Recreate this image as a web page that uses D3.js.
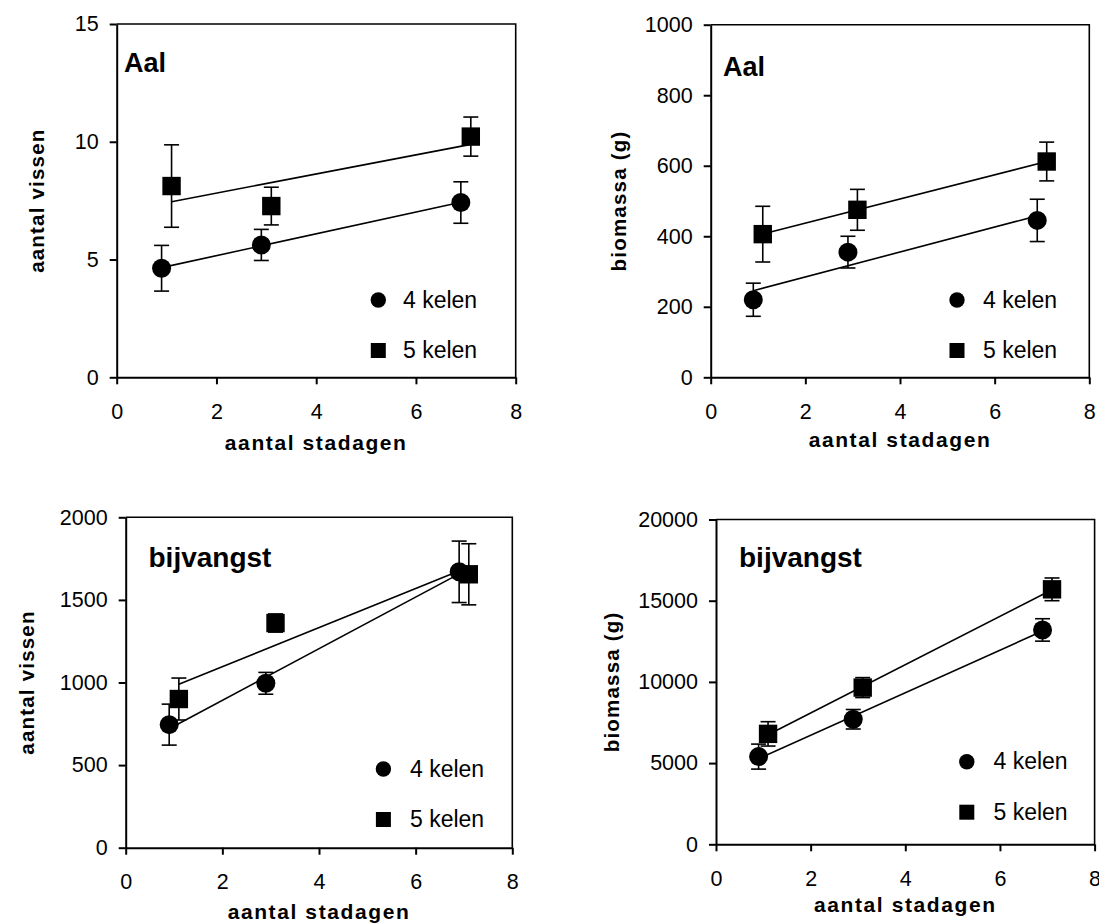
<!DOCTYPE html>
<html>
<head>
<meta charset="utf-8">
<script src="https://cdn.jsdelivr.net/npm/d3@7"></script>
<style>
  html, body { margin: 0; padding: 0; background: #fff; }
  svg { display: block; }
  text { font-family: "Liberation Sans", Arial, sans-serif; fill: #000; }
</style>
</head>
<body>
<svg id="chart" width="1099" height="924"></svg>
<script>
// ---------- data ----------
const xTicks = [0, 2, 4, 6, 8];
const legendLabels = ["4 kelen", "5 kelen"];
const xTitle = "aantal stadagen";

// x positions (aantal stadagen) of the two series (slightly offset in the figure)
const x4kelen = [0.9, 2.9, 6.9];
const x5kelen = [1.1, 3.1, 7.1];

// Aal - aantal vissen
const aalAantal4 = [4.63, 5.62, 7.42];
const aalAantal4Err = [0.97, 0.66, 0.88];
const aalAantal5 = [8.12, 7.27, 10.22];
const aalAantal5Err = [1.75, 0.80, 0.83];
const aalAantalTicks = [0, 5, 10, 15];

// Aal - biomassa (g)
const aalBio4 = [220, 355, 445];
const aalBio4Err = [47, 45, 60];
const aalBio5 = [406, 475, 612];
const aalBio5Err = [79, 58, 55];
const aalBioTicks = [0, 200, 400, 600, 800, 1000];

// bijvangst - aantal vissen
const bijAantal4 = [745, 995, 1670];
const bijAantal4Err = [124, 66, 186];
const bijAantal5 = [900, 1360, 1655];
const bijAantal5Err = [127, 55, 185];
const bijAantalTicks = [0, 500, 1000, 1500, 2000];

// bijvangst - biomassa (g)
const bijBio4 = [5400, 7700, 13200];
const bijBio4Err = [770, 600, 690];
const bijBio5 = [6800, 9650, 15700];
const bijBio5Err = [750, 615, 700];
const bijBioTicks = [0, 5000, 10000, 15000, 20000];

// ---------- layout ----------
const panels = [
  { label: "Aal", yTitle: "aantal vissen", yTicks: aalAantalTicks,
    s4: aalAantal4, e4: aalAantal4Err, s5: aalAantal5, e5: aalAantal5Err,
    box: { l: 116.7, t: 24, r: 515.7, b: 377.3 },
    labelPos: [124, 71.5], labelSize: 27,
    yTitleX: 37, xTitleY: 450,
    legend: { x: 378.3, y: 300, tx: 403 } },
  { label: "Aal", yTitle: "biomassa (g)", yTicks: aalBioTicks,
    s4: aalBio4, e4: aalBio4Err, s5: aalBio5, e5: aalBio5Err,
    box: { l: 710.7, t: 24.7, r: 1089.3, b: 377.3 },
    labelPos: [723, 75.5], labelSize: 27,
    yTitleX: 618.5, xTitleY: 447,
    legend: { x: 957, y: 300, tx: 983 } },
  { label: "bijvangst", yTitle: "aantal vissen", yTicks: bijAantalTicks,
    s4: bijAantal4, e4: bijAantal4Err, s5: bijAantal5, e5: bijAantal5Err,
    box: { l: 125.7, t: 517.3, r: 512.3, b: 847.7 },
    labelPos: [148.5, 566.7], labelSize: 28,
    yTitleX: 27, xTitleY: 919,
    legend: { x: 383.4, y: 769, tx: 410 } },
  { label: "bijvangst", yTitle: "biomassa (g)", yTicks: bijBioTicks,
    s4: bijBio4, e4: bijBio4Err, s5: bijBio5, e5: bijBio5Err,
    box: { l: 716, t: 519.5, r: 1094.6, b: 844.3 },
    labelPos: [739, 567.3], labelSize: 28,
    yTitleX: 611.5, xTitleY: 912,
    legend: { x: 966.8, y: 761.7, tx: 993.5 } }
];

const svg = d3.select("#chart");

function fit(xs, ys) {
  const n = xs.length;
  const mx = d3.mean(xs), my = d3.mean(ys);
  let sxy = 0, sxx = 0;
  for (let i = 0; i < n; i++) { sxy += (xs[i] - mx) * (ys[i] - my); sxx += (xs[i] - mx) ** 2; }
  const slope = sxy / sxx;
  return x => my + slope * (x - mx);
}

panels.forEach(p => {
  const g = svg.append("g");
  const x = d3.scaleLinear().domain([0, 8]).range([p.box.l, p.box.r]);
  const yMax = p.yTicks[p.yTicks.length - 1];
  const y = d3.scaleLinear().domain([0, yMax]).range([p.box.b, p.box.t]);

  // frame (top and right)
  g.append("path")
    .attr("d", `M${p.box.l},${p.box.t}H${p.box.r}V${p.box.b}`)
    .attr("fill", "none").attr("stroke", "#000").attr("stroke-width", 1.6);

  // axes
  const xAxis = d3.axisBottom(x).tickValues(xTicks).tickSize(7).tickSizeOuter(0).tickPadding(19)
    .tickFormat(d3.format("d"));
  const yAxis = d3.axisLeft(y).tickValues(p.yTicks).tickSize(7).tickSizeOuter(0).tickPadding(11)
    .tickFormat(d3.format("d"));

  const gx = g.append("g").attr("transform", `translate(0,${p.box.b})`).call(xAxis);
  const gy = g.append("g").attr("transform", `translate(${p.box.l},0)`).call(yAxis);
  [gx, gy].forEach(a => {
    a.select(".domain").attr("stroke", "#000").attr("stroke-width", 2);
    a.selectAll(".tick line").attr("stroke", "#000").attr("stroke-width", 2);
    a.selectAll(".tick text").attr("fill", "#000")
      .style("font-family", '"Liberation Sans", Arial, sans-serif').style("font-size", "21.5px");
  });

  // axis titles
  g.append("text")
    .attr("x", (p.box.l + p.box.r) / 2).attr("y", p.xTitleY)
    .attr("text-anchor", "middle")
    .style("font-size", "21px").style("font-weight", "bold").style("letter-spacing", "1.6px")
    .text(xTitle);
  g.append("text")
    .attr("transform", `translate(${p.yTitleX},${(p.box.t + p.box.b) / 2}) rotate(-90)`)
    .attr("text-anchor", "middle").attr("dy", "0.35em")
    .style("font-size", "20.5px").style("font-weight", "bold").style("letter-spacing", "1.2px")
    .text(p.yTitle);

  // panel label
  g.append("text")
    .attr("x", p.labelPos[0]).attr("y", p.labelPos[1])
    .style("font-size", p.labelSize + "px").style("font-weight", "bold")
    .text(p.label);

  const series = [
    { xs: x4kelen, ys: p.s4, es: p.e4, shape: "circle" },
    { xs: x5kelen, ys: p.s5, es: p.e5, shape: "square" }
  ];

  // regression lines
  series.forEach(s => {
    const f = fit(s.xs, s.ys);
    const x0 = d3.min(s.xs), x1 = d3.max(s.xs);
    g.append("line")
      .attr("x1", x(x0)).attr("y1", y(f(x0)))
      .attr("x2", x(x1)).attr("y2", y(f(x1)))
      .attr("stroke", "#000").attr("stroke-width", 1.6);
  });

  // error bars
  const cap = 7.5;
  series.forEach(s => {
    s.xs.forEach((xv, i) => {
      const cx = x(xv), yt = y(s.ys[i] + s.es[i]), yb = y(s.ys[i] - s.es[i]);
      const eb = g.append("g").attr("stroke", "#000").attr("stroke-width", 1.6);
      eb.append("line").attr("x1", cx).attr("x2", cx).attr("y1", yt).attr("y2", yb);
      eb.append("line").attr("x1", cx - cap).attr("x2", cx + cap).attr("y1", yt).attr("y2", yt);
      eb.append("line").attr("x1", cx - cap).attr("x2", cx + cap).attr("y1", yb).attr("y2", yb);
    });
  });

  // markers
  series.forEach(s => {
    s.xs.forEach((xv, i) => {
      const cx = x(xv), cy = y(s.ys[i]);
      if (s.shape === "circle") {
        g.append("circle").attr("cx", cx).attr("cy", cy).attr("r", 9.5).attr("fill", "#000");
      } else {
        g.append("rect").attr("x", cx - 9.2).attr("y", cy - 9.2).attr("width", 18.4).attr("height", 18.4).attr("fill", "#000");
      }
    });
  });

  // legend
  const L = p.legend;
  g.append("circle").attr("cx", L.x).attr("cy", L.y).attr("r", 7.7).attr("fill", "#000");
  g.append("rect").attr("x", L.x - 7.5).attr("y", L.y + 50.5 - 7.5).attr("width", 15).attr("height", 15).attr("fill", "#000");
  legendLabels.forEach((t, i) => {
    g.append("text").attr("x", L.tx).attr("y", L.y + i * 50.5 + 7.5)
      .style("font-size", "23px").text(t);
  });
});
</script>
</body>
</html>
